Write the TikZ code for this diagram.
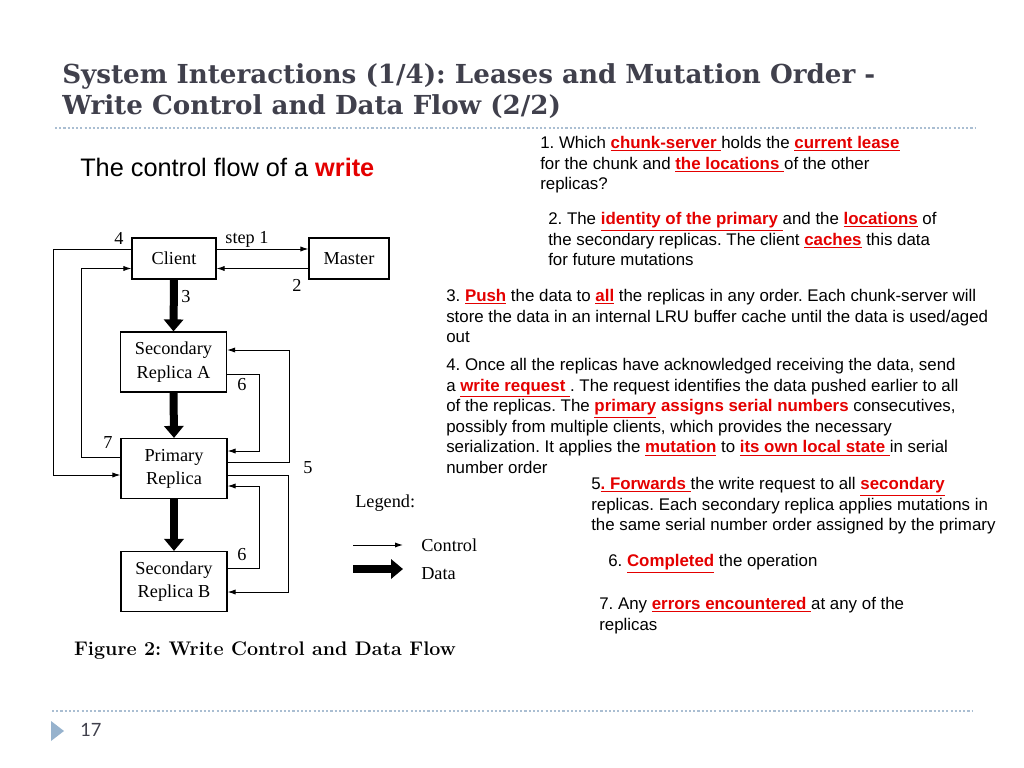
\documentclass[tikz,border=0pt]{standalone}
\usepackage{fontspec}
\usetikzlibrary{arrows.meta,calc,positioning}
\newfontfamily\titlefont{DejaVu Serif}
\newfontfamily\figfont{Liberation Serif}
\newfontfamily\arialfont{Liberation Sans}
\newfontfamily\pagefont{Lato}
\definecolor{hlred}{RGB}{228,0,0}
\definecolor{titlegray}{RGB}{64,64,76}
\definecolor{rulegray}{RGB}{170,190,210}
\definecolor{markblue}{RGB}{150,178,205}
\newcommand{\redu}[1]{{\color{hlred}\bfseries\underline{#1}}}
\frenchspacing
\tikzset{
  box/.style={draw,rectangle,line width=0.8pt,minimum width=2.65cm,minimum height=1.5cm,align=center,
    font=\figfont\fontsize{13}{16.5}\selectfont,inner sep=1pt},
  num/.style={font=\figfont\fontsize{13}{15}\selectfont,inner sep=0pt},
  ctrl/.style={->,line width=0.7pt},
  datarrow/.style={line width=0.2cm,-{Triangle[width=0.48cm,length=0.3cm]}},
  txt/.style={anchor=north west,align=left,inner sep=0pt,font=\arialfont\fontsize{12}{14.65}\selectfont},
  dotrule/.style={rulegray,line width=0.8pt,dash pattern=on 1.5pt off 1.5pt}
}

\begin{document}
\begin{tikzpicture}[x=0.025cm,y=-0.025cm,>={Latex[length=2mm,width=1.3mm]}]
  \useasboundingbox (0,0) rectangle (1024,768);

  % title and rules
  \node[anchor=base west,inner sep=0pt,text=titlegray,font=\titlefont\bfseries\fontsize{18.6}{22}\selectfont] (title1) at (62,84)
    {System Interactions (1/4): Leases and Mutation Order -};
  \node[anchor=base west,inner sep=0pt,text=titlegray,font=\titlefont\bfseries\fontsize{18.6}{22}\selectfont] (title2) at (62,115)
    {Write Control and Data Flow (2/2)};
  \draw[dotrule] (55,128) -- (975,128);
  \draw[dotrule] (52,711) -- (972,711);
  \fill[markblue] (51,721) -- (64,731) -- (51,741) -- cycle;
  \node[anchor=west,inner sep=0pt,font=\pagefont\fontsize{13}{15}\selectfont,text=titlegray] (page) at (80,730) {17};

  \node[anchor=west,inner sep=0pt,font=\arialfont\fontsize{18}{21}\selectfont] (sub) at (80,167)
    {The control flow of a {\color{hlred}\bfseries write}};

  % boxes
  \node[box,minimum width=2.1cm,minimum height=1.025cm] (client) at (174,258.5) {Client};
  \node[box,minimum width=2cm,minimum height=1.025cm] (master) at (349,258.5) {Master};
  \node[box] (seca) at (173.5,362) {Secondary\\Replica A};
  \node[box] (primary) at (174,468.5) {Primary\\Replica};
  \node[box] (secb) at (174,581.5) {Secondary\\Replica B};

  % data flow
  \draw[datarrow] (client.south) -- (seca.north);
  \draw[datarrow] (seca.south) -- (primary.north);
  \draw[datarrow] (primary.south) -- (secb.north);

  % control flow
  \draw[ctrl] ($(client.east)+(0,-9.5)$) -- ($(master.west)+(0,-9.5)$);
  \draw[ctrl] ($(master.west)+(0,10)$) -- ($(client.east)+(0,10)$);
  \draw[ctrl] ($(client.west)+(0,-9.5)$) -| ($(primary.west)+(-67,6.5)$) -- ($(primary.west)+(0,6.5)$);
  \draw[ctrl] ($(primary.west)+(0,-11.5)$) -| ($(client.west)+(-50,10)$) -- ($(client.west)+(0,10)$);
  \draw[ctrl] ($(seca.east)+(0,12)$) -| ($(primary.east)+(32,-17.5)$) -- ($(primary.east)+(0,-17.5)$);
  \draw[ctrl] ($(primary.east)+(0,-6.5)$) -| ($(seca.east)+(62,-12)$) -- ($(seca.east)+(0,-12)$);
  \draw[ctrl] ($(primary.east)+(0,6.5)$) -| ($(secb.east)+(61,10.5)$) -- ($(secb.east)+(0,10.5)$);
  \draw[ctrl] ($(secb.east)+(0,-13.5)$) -| ($(primary.east)+(32,17.5)$) -- ($(primary.east)+(0,17.5)$);

  \node[num] (s1) at (247,239) {step 1};
  \node[num] (s2) at (297,285) {2};
  \node[num] (s3) at (186,297) {3};
  \node[num] (s4) at (119,238) {4};
  \node[num] (s5) at (308,468) {5};
  \node[num] (s6a) at (242,385) {6};
  \node[num] (s6b) at (242,555) {6};
  \node[num] (s7) at (108,443) {7};

  % legend
  \node[num,anchor=west] (legend) at (355,503) {Legend:};
  \coordinate (c0) at (353,545);
  \coordinate (c1) at (403,545);
  \coordinate (d0) at (353,569);
  \coordinate (d1) at (403,569);
  \draw[ctrl] (c0) -- (c1);
  \draw[datarrow] (d0) -- (d1);
  \node[num,anchor=west] (lctrl) at (421,545) {Control};
  \node[num,anchor=west] (ldata) at (421,574) {Data};

  \node[inner sep=0pt,font=\bfseries\fontsize{14}{16}\selectfont] (caption) at (265,651)
    {Figure 2: Write Control and Data Flow};

  % steps
  \node[txt] (t1) at (540,136) {1. Which \redu{chunk-server\ }holds the \redu{current lease}\\
    for the chunk and \redu{the locations\ }of the other\\
    replicas?};
  \node[txt] (t2) at (548,212) {2. The \redu{identity of the primary\ }and the \redu{locations} of\\
    the secondary replicas. The client \redu{caches} this data\\
    for future mutations};
  \node[txt] (t3) at (446,289) {3. \redu{Push} the data to \redu{all} the replicas in any order. Each chunk-server will\\
    store the data in an internal LRU buffer cache until the data is used/aged\\
    out};
  \node[txt] (t4) at (446,358) {4. Once all the replicas have acknowledged receiving the data, send\\
    a \redu{write request\ }. The request identifies the data pushed earlier to all\\
    of the replicas. The \redu{primary} {\color{hlred}\bfseries assigns serial numbers} consecutives,\\
    possibly from multiple clients, which provides the necessary\\
    serialization. It applies the \redu{mutation} to \redu{its own local state\ }in serial\\
    number order};
  \node[txt] (t5) at (591,477) {5\redu{. Forwards\ }the write request to all \redu{secondary}\\
    replicas. Each secondary replica applies mutations in\\
    the same serial number order assigned by the primary};
  \node[txt] (t6) at (608,554) {6. \redu{Completed} the operation};
  \node[txt] (t7) at (599,597) {7. Any \redu{errors encountered\ }at any of the\\
    replicas};
\end{tikzpicture}
\end{document}
